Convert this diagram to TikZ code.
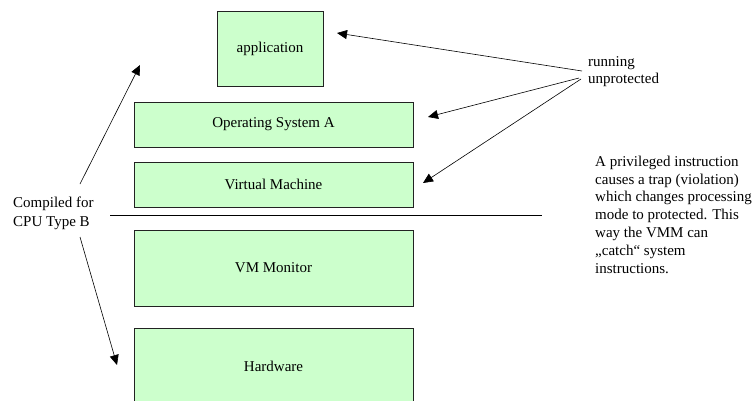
\documentclass[tikz,border=0pt]{standalone}
\usepackage{fontspec}
\setmainfont{Liberation Serif}
\newfontfamily\serf{Liberation Serif}
\usetikzlibrary{arrows.meta}
\definecolor{boxgreen}{HTML}{CCFFCC}
\definecolor{edge}{HTML}{222222}
\begin{document}
\begin{tikzpicture}[x=1pt,y=-1pt,
  layer/.style={draw=edge, fill=boxgreen, line width=0.9pt, inner sep=0pt,
    font=\serf\fontsize{15}{17}\selectfont},
  lbl/.style={inner sep=0pt, align=left, anchor=west},
  arr/.style={draw=black, line width=0.6pt, -{Triangle[length=10pt,width=9pt]}}]
\useasboundingbox (0,0) rectangle (753,400);
\clip (0,0) rectangle (753,400);
% layers
\node[layer, minimum width=106pt, minimum height=75pt] (app) at (270,48.5) {application};
\node[layer, minimum width=279pt, minimum height=45pt] (os) at (273.5,124.5) {Operating System A};
\node[layer, minimum width=279pt, minimum height=45pt] (vm) at (273.5,184.5) {Virtual Machine};
\node[layer, minimum width=279pt, minimum height=76pt] (vmm) at (273.5,268) {VM Monitor};
\node[layer, minimum width=279pt, minimum height=76pt] (hw) at (273.5,366) {Hardware};
% separator
\coordinate (sepL) at (110,215);
\coordinate (sepR) at (542,215);
\draw[line width=0.8pt] (sepL) -- (sepR);
% labels
\node[lbl, font=\serf\fontsize{15}{17}\selectfont] (run) at (588,71.5) {running\\unprotected};
\node[lbl, font=\serf\fontsize{15}{18.5}\selectfont] (comp) at (13,213.5) {Compiled for\\CPU Type B};
\node[lbl, font=\serf\fontsize{15}{17.8}\selectfont] (note) at (595,214.5) {A privileged instruction\\causes a trap (violation)\\which changes processing\\mode to protected. This\\way the VMM can\\„catch“ system\\instructions.};
% arrow ends
\coordinate (r1) at (582,71);
\coordinate (r2) at (579,78);
\coordinate (r3) at (581,79);
\coordinate (tApp) at (337,33);
\coordinate (tOS) at (428,117);
\coordinate (tVM) at (423,183);
\coordinate (c1) at (80,184);
\coordinate (c2) at (80,237);
\coordinate (tUp) at (140,65);
\coordinate (tDown) at (117,365);
\draw[arr] (r1) -- (tApp);
\draw[arr] (r2) -- (tOS);
\draw[arr] (r3) -- (tVM);
\draw[arr] (c1) -- (tUp);
\draw[arr] (c2) -- (tDown);
\end{tikzpicture}
\end{document}
